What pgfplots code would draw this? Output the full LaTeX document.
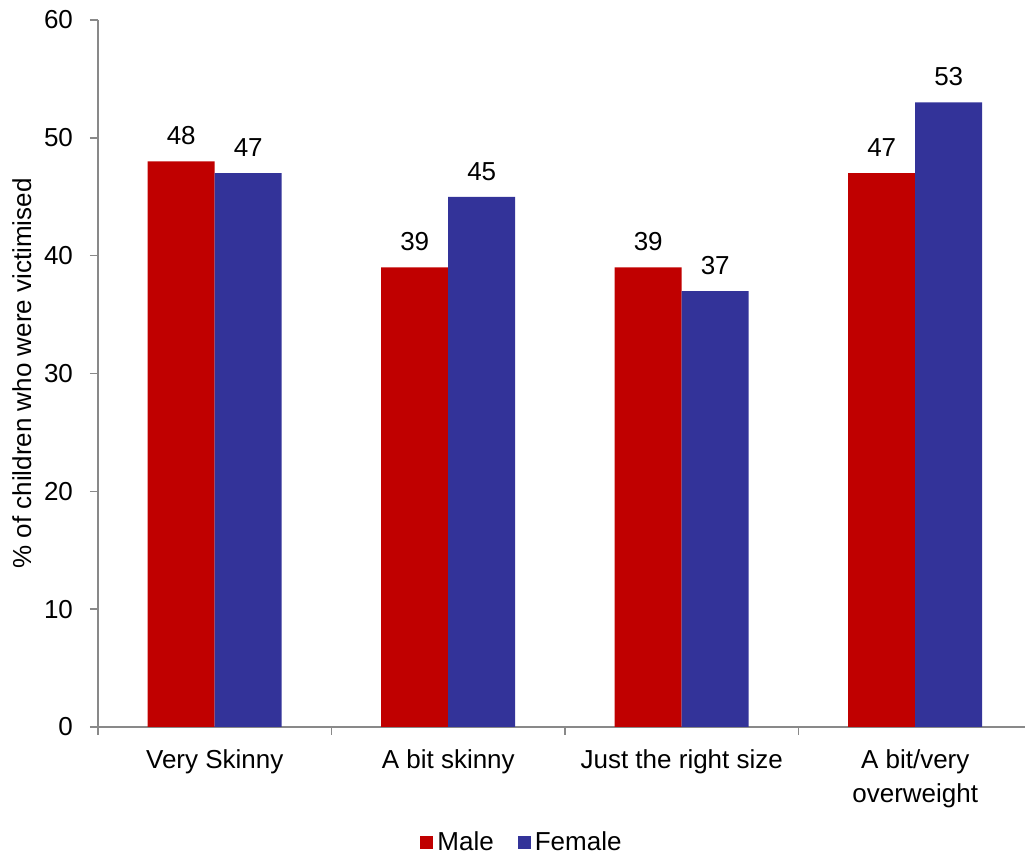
\documentclass[border=0pt]{standalone}
\usepackage{pgfplots}
\pgfplotsset{compat=1.18}
\usepackage{fontspec}
\setmainfont{Liberation Sans}
\definecolor{male}{HTML}{C00000}
\definecolor{female}{HTML}{333399}
\definecolor{axgray}{HTML}{898989}
\begin{document}
\fontsize{13}{17}\selectfont
\begin{tikzpicture}
\path[use as bounding box] (-49pt,-64.5pt) rectangle (463.5pt,363.5pt);
\begin{axis}[
  at={(0,0)}, anchor=south west,
  scale only axis, width=467pt, height=353.5pt,
  xmin=-0.5, xmax=3.5, ymin=0, ymax=60,
  ybar, bar width=33.5pt,
  axis lines*=left,
  axis line style={axgray, line width=0.8pt, -},
  xtick={-0.5,0.5,1.5,2.5,3.5},
  x tick label as interval,
  xticklabels={Very Skinny, A bit skinny, Just the right size, {A bit/very\\overweight}},
  xticklabel style={align=center, font=\fontsize{13}{17}\selectfont, yshift=-3pt},
  ytick={0,10,...,60},
  tick align=outside,
  major tick length=4pt,
  tick style={draw=axgray, line width=0.8pt},
  yticklabel style={font=\fontsize{13}{17}\selectfont, xshift=-4pt},
  /pgf/number format/assume math mode=true,
  ylabel={\% of children who were victimised},
  ylabel style={at={(axis description cs:-0.0815,0.5)}, anchor=center, font=\fontsize{13}{17}\selectfont},
  nodes near coords,
  every node near coord/.append style={font=\fontsize{13}{17}\selectfont, anchor=south, inner sep=0pt, yshift=8pt},
  legend columns=2,
  legend style={at={(axis description cs:0.455,-0.164)}, anchor=center, draw=none, font=\fontsize{13}{17}\selectfont,
    /tikz/every even column/.append style={column sep=10pt}},
  legend image code/.code={\fill[#1] (0pt,-3.25pt) rectangle (6.5pt,3.25pt);},
]
\addplot[fill=male, draw=none, bar shift=-16.75pt] coordinates {(0,48) (1,39) (2,39) (3,47)};
\addplot[fill=female, draw=none, bar shift=16.75pt] coordinates {(0,47) (1,45) (2,37) (3,53)};
\legend{Male, Female}
\end{axis}
\end{tikzpicture}
\end{document}
